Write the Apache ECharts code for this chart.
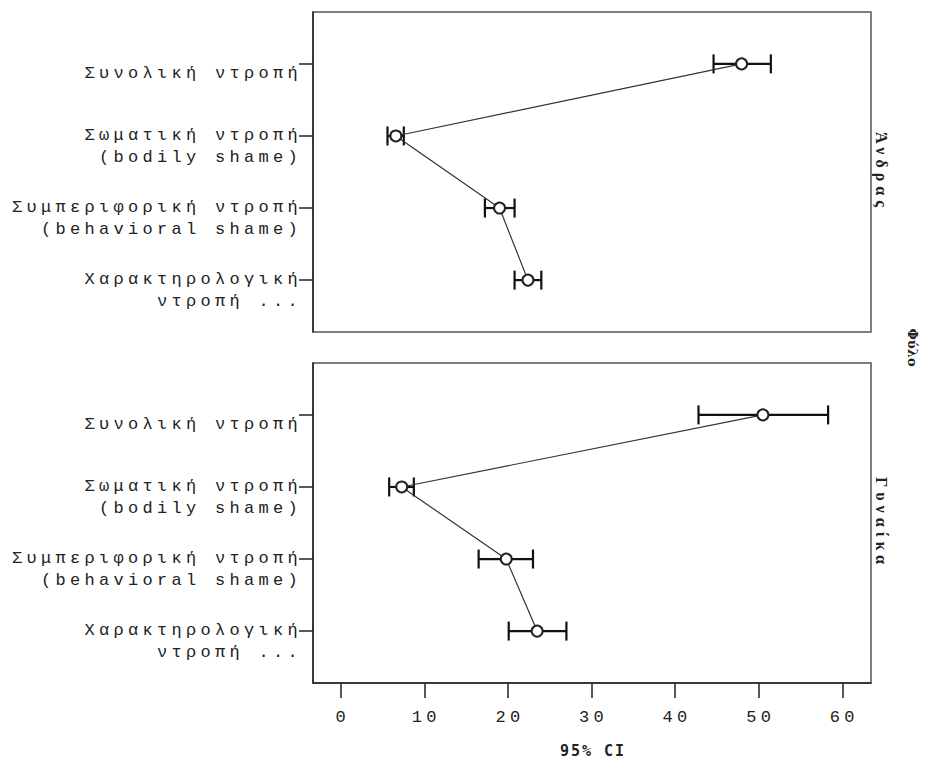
<!DOCTYPE html>
<html>
<head>
<meta charset="utf-8">
<script src="https://cdn.jsdelivr.net/npm/echarts@6/dist/echarts.min.js"></script>
<style>
  html, body { margin: 0; padding: 0; background: #fff; }
  #chart { width: 930px; height: 769px; }
  /* wide-tracked text: monospace axis labels, axis title and the panel captions */
  #chart text[style*="Liberation Mono"] { letter-spacing: 4.3px; }
  #chart text[style*="DejaVu Sans Mono"] { letter-spacing: 2px; }
  #chart text[style*="Liberation Serif"] { letter-spacing: 5px; }
</style>
</head>
<body>
<div id="chart"></div>
<script>
// Measures (rows) and panel groups
const categories = [
  'Συνολική ντροπή',
  'Σωματική ντροπή\n(bodily shame)',
  'Συμπεριφορική ντροπή\n(behavioral shame)',
  'Χαρακτηρολογική\nντροπή ...'
];
const categoryIndex = [0, 1, 2, 3];
const panelNames = ['Άνδρας', 'Γυναίκα'];
const groupTitle = 'Φύλο';
const axisTitle = '95% CI';
const xTicks = [0, 10, 20, 30, 40, 50, 60];

// Men: mean and 95% confidence limits
const menMean  = [47.95, 6.6, 19.0, 22.4];
const menLower = [44.6, 5.6, 17.25, 20.8];
const menUpper = [51.45, 7.55, 20.8, 24.0];

// Women: mean and 95% confidence limits
const womenMean  = [50.5, 7.3, 19.8, 23.5];
const womenLower = [42.8, 5.8, 16.5, 20.1];
const womenUpper = [58.3, 8.75, 23.0, 27.0];

const monoFont = 'Liberation Mono';
const ink = '#222';
const xMin = -3.31, xMax = 63.43;
const yMin = -0.72, yMax = 3.72;
// row labels sit a little below their tick marks
const labelDrop = 0.14;

const panels = [
  { mean: menMean, lower: menLower, upper: menUpper },
  { mean: womenMean, lower: womenLower, upper: womenUpper }
];

const grids = [
  { left: 313, top: 12, width: 558, height: 320 },
  { left: 313, top: 363, width: 558, height: 320 }
].map(g => Object.assign(g, {
  show: true, borderColor: '#555', borderWidth: 1.5, backgroundColor: 'transparent', containLabel: false
}));

const xAxes = grids.map((g, i) => {
  const isBottom = i === grids.length - 1;
  return {
    type: 'value', gridIndex: i, min: xMin, max: xMax,
    show: isBottom,
    splitLine: { show: false },
    axisLine: { show: true, onZero: false, lineStyle: { color: ink, width: 1.5 } },
    axisTick: { show: true, length: 15, customValues: xTicks, lineStyle: { color: ink, width: 1.5 } },
    axisLabel: {
      customValues: xTicks, fontFamily: monoFont, fontSize: 17, color: ink,
      margin: 26, padding: [0, 0, 0, 4]
    },
    name: isBottom ? axisTitle : '',
    nameLocation: 'middle', nameGap: 60,
    nameTextStyle: { fontFamily: 'DejaVu Sans Mono', fontWeight: 'bold', fontSize: 15, color: ink, padding: [0, 0, 0, 2] }
  };
});

const yAxes = grids.map((g, i) => ({
  type: 'value', gridIndex: i, inverse: true, min: yMin, max: yMax,
  splitLine: { show: false },
  axisLine: { show: true, onZero: false, lineStyle: { color: ink, width: 1.5 } },
  axisTick: { show: true, length: 14, customValues: categoryIndex, lineStyle: { color: ink, width: 1.5 } },
  axisLabel: {
    customValues: categoryIndex.map(k => k + labelDrop),
    formatter: v => categories[Math.round(v)],
    fontFamily: monoFont, fontSize: 17, color: ink, lineHeight: 22,
    align: 'right', margin: 11
  }
}));

function renderErrorBar(params, api) {
  const lo = api.coord([api.value(0), api.value(2)]);
  const hi = api.coord([api.value(1), api.value(2)]);
  const cap = 9.5;
  const style = { stroke: '#111', lineWidth: 2.2, fill: null };
  return {
    type: 'group',
    children: [
      { type: 'line', shape: { x1: lo[0], y1: lo[1], x2: hi[0], y2: hi[1] }, style },
      { type: 'line', shape: { x1: lo[0], y1: lo[1] - cap, x2: lo[0], y2: lo[1] + cap }, style },
      { type: 'line', shape: { x1: hi[0], y1: hi[1] - cap, x2: hi[0], y2: hi[1] + cap }, style }
    ]
  };
}

const series = [];
panels.forEach((p, i) => {
  series.push({
    type: 'custom', xAxisIndex: i, yAxisIndex: i, z: 2,
    renderItem: renderErrorBar,
    encode: { x: [0, 1], y: 2 },
    data: categoryIndex.map(k => [p.lower[k], p.upper[k], k]),
    silent: true
  });
  series.push({
    type: 'line', xAxisIndex: i, yAxisIndex: i, z: 3,
    data: categoryIndex.map(k => [p.mean[k], k]),
    symbol: 'emptyCircle', symbolSize: 11,
    itemStyle: { color: '#222', borderColor: '#222', borderWidth: 1.1 },
    lineStyle: { color: '#333', width: 1.2 },
    silent: true, animation: false
  });
});

const graphic = grids.map((g, i) => ({
  type: 'text', x: g.left + g.width + 10, y: g.top + g.height / 2,
  rotation: -Math.PI / 2,
  style: {
    text: panelNames[i], fontFamily: 'Liberation Serif', fontWeight: 'bold', fontSize: 16,
    fill: ink, textAlign: 'center', textVerticalAlign: 'middle'
  }
}));
graphic.push({
  type: 'text', x: 912, y: (grids[0].top + grids[0].height + grids[1].top) / 2,
  rotation: -Math.PI / 2,
  style: {
    text: groupTitle, fontFamily: 'DejaVu Serif', fontWeight: 'bold', fontSize: 13,
    fill: ink, textAlign: 'center', textVerticalAlign: 'middle'
  }
});

const chart = echarts.init(document.getElementById('chart'), null, { renderer: 'svg' });
chart.setOption({
  animation: false,
  backgroundColor: '#fff',
  grid: grids,
  xAxis: xAxes,
  yAxis: yAxes,
  series: series,
  graphic: graphic
});
</script>
</body>
</html>
